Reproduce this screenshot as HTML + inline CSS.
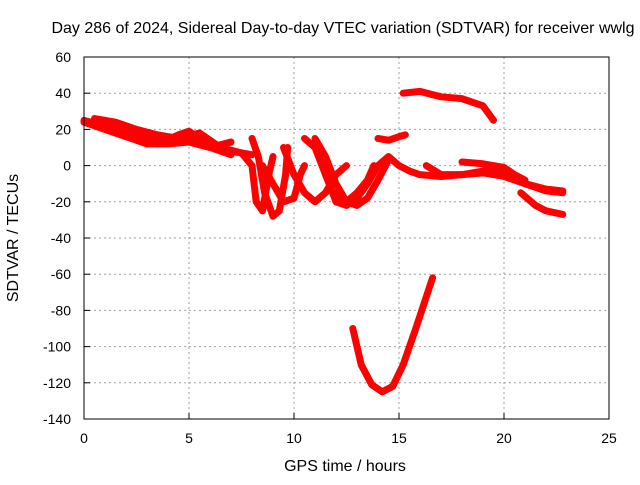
<!DOCTYPE html>
<html><head><meta charset="utf-8"><style>
body{margin:0;background:#fff;font-family:"Liberation Sans",sans-serif;}
svg text{font-family:"Liberation Sans",sans-serif;font-size:14px;fill:#000;}
svg text.big{font-size:16px;}
</style></head><body>
<svg id="c" width="640" height="480">
<rect width="640" height="480" fill="#fff"/>
<text class="big" x="343" y="33" text-anchor="middle">Day 286 of 2024, Sidereal Day-to-day VTEC variation (SDTVAR) for receiver wwlg</text>
<text class="big" x="345" y="471" text-anchor="middle">GPS time / hours</text>
<text class="big" transform="translate(18,238) rotate(-90)" text-anchor="middle">SDTVAR / TECUs</text>
<g id="grid"></g><g id="ticks"></g><g id="marks"></g>
<rect x="84" y="57" width="525" height="362" fill="none" stroke="#000"/>
</svg>
<script>
const xTicks=[0,5,10,15,20,25];
const yTicks=[60,40,20,0,-20,-40,-60,-80,-100,-120,-140];
const seriesA=[[0,25],[1,22],[2,18],[3,14],[4,14],[5,16],[6,12],[7,8],[8,6]];
const seriesB=[[0,24],[1,20],[2,16],[3,12],[4,12],[5,13],[6,10],[7,6]];
const seriesC=[[0.5,26],[1.5,24],[2.5,20],[3.5,17],[4.5,15],[5.5,18],[6.5,10],[7.5,7],[8,0],[8.2,-20],[8.5,-25],[8.8,-5],[9,5]];
const seriesD=[[2.5,18],[3.5,12],[4.5,17],[5,19],[5.5,15],[6,10],[7,13]];
const seriesE=[[8,15],[8.3,5],[8.6,-15],[9,-28],[9.3,-25],[9.6,-5],[9.7,10]];
const seriesF=[[8.5,0],[9,-10],[9.5,-20],[10,-18],[10.3,-5],[10.5,0]];
const seriesG=[[10.5,15],[11,10],[11.5,-5],[12,-20],[12.5,-22],[13,-18],[13.5,-10],[14,0],[14.5,5],[15,0],[15.5,-3],[16,-5],[17,-6],[18,-5],[19,-4],[20,-6],[21,-10],[22,-14],[22.8,-15]];
const seriesH=[[11,15],[11.5,5],[12,-10],[12.5,-20],[13,-22],[13.5,-18],[14,-8],[14.5,3]];
const seriesI=[[9.5,10],[10,-5],[10.5,-15],[11,-20],[11.5,-15],[12,-5],[12.5,0]];
const seriesJ=[[12,-15],[12.5,-20],[13,-15],[13.5,-8],[13.8,0]];
const seriesK=[[14,15],[14.5,14],[15,16],[15.3,17]];
const seriesL=[[15.2,40],[16,41],[17,38],[18,37],[19,33],[19.5,25]];
const seriesM=[[16.3,0],[17,-5],[18,-5],[19,-3],[19.5,-2],[20,-4],[21,-10],[22,-13],[22.8,-14]];
const seriesN=[[18,2],[19,1],[20,-1],[20.5,-5],[21,-8]];
const seriesO=[[20.8,-15],[21.5,-22],[22,-25],[22.8,-27]];
const seriesP=[[12.8,-90],[13.2,-110],[13.7,-121],[14.2,-125],[14.7,-122],[15.2,-110],[15.8,-90],[16.6,-62]];
const allSeries=[seriesA,seriesB,seriesC,seriesD,seriesE,seriesF,seriesG,seriesH,seriesI,seriesJ,seriesK,seriesL,seriesM,seriesN,seriesO,seriesP];
const X=v=>84+v*21, Y=v=>57+(60-v)*1.81;
const NS='http://www.w3.org/2000/svg';
const grid=document.getElementById('grid'),ticks=document.getElementById('ticks'),marks=document.getElementById('marks');
function mk(t,a,p){const e=document.createElementNS(NS,t);for(const k in a)e.setAttribute(k,a[k]);p.appendChild(e);return e;}
xTicks.forEach(v=>{
 if(v>0&&v<25){const g=mk('line',{x1:X(v),x2:X(v),y1:57,y2:419,stroke:'#a0a0a0','stroke-dasharray':'2,3'},grid);
 
 }
 mk('line',{x1:X(v),x2:X(v),y1:419,y2:413,stroke:'#000'},ticks);
 const t=mk('text',{x:X(v),y:443,'text-anchor':'middle'},ticks);t.textContent=v;
 
 
});
yTicks.forEach(v=>{
 if(v<60&&v>-140){const g=mk('line',{x1:84,x2:609,y1:Y(v),y2:Y(v),stroke:'#a0a0a0','stroke-dasharray':'2,3'},grid);
 
 }
 mk('line',{x1:84,x2:90,y1:Y(v),y2:Y(v),stroke:'#000'},ticks);
 const t=mk('text',{x:71,y:Y(v)+5,'text-anchor':'end'},ticks);t.textContent=v;
 
 
});
allSeries.forEach(s=>{
 const p=mk('polyline',{points:s.map(d=>X(d[0])+','+Y(d[1])).join(' '),fill:'none',stroke:'#f00','stroke-width':7,'stroke-linejoin':'round','stroke-linecap':'round'},marks);
 
 
});
</script>
</body></html>
